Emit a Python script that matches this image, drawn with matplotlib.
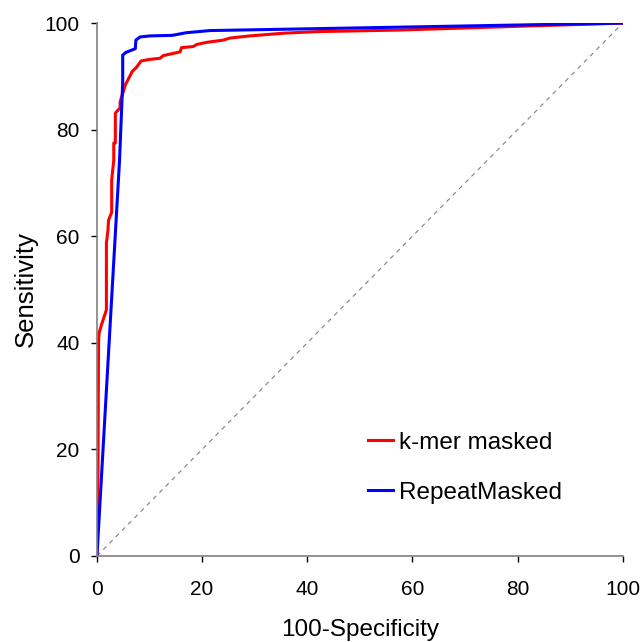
import matplotlib
matplotlib.use("Agg")
import matplotlib.pyplot as plt

plt.rcParams['font.family'] = ['Liberation Sans', 'DejaVu Sans']

# ROC points (x = 100-Specificity, y = Sensitivity)
KMER_X = [0, 0.1, 0.2, 0.3, 0.4, 0.9, 1.8, 1.8, 2.1, 2.2, 2.8, 2.8, 3.2, 3.2, 3.5, 3.5,
          4.4, 4.4, 5.4, 6.7, 7.6, 8.4, 10.1, 12.0, 12.6, 15.8, 16.1, 18.3, 19.0,
          20.9, 24.0, 25.3, 29.1, 35.4, 41.8, 57.6, 80.0, 100]
KMER_Y = [0, 10.0, 16.1, 40.0, 41.8, 43.5, 46.2, 58.7, 61.2, 63.0, 64.5, 70.5, 74.3, 77.5,
          77.5, 83.1, 84.1, 85.2, 88.4, 90.9, 91.8, 92.9, 93.2, 93.4, 93.9, 94.6, 95.4,
          95.6, 96.0, 96.4, 96.8, 97.2, 97.6, 98.1, 98.4, 98.7, 99.4, 100]

REPEAT_X = [0, 4.3, 4.9, 4.9, 5.5, 7.3, 7.4, 8.2, 10.1, 14.3, 17.0, 21.5, 100]
REPEAT_Y = [0, 74.3, 88.9, 94.0, 94.5, 95.2, 96.8, 97.4, 97.6, 97.7, 98.2, 98.6, 100]

fig = plt.figure(figsize=(6.42, 6.42), dpi=100)
ax = fig.add_axes([0.151, 0.134, 0.819, 0.830])

ax.plot([0, 100], [0, 100], color='#808080', lw=0.8, ls=(0, (4, 4)))
ax.plot(KMER_X, KMER_Y, color='#FF0000', lw=2.2, label='k-mer masked')
ax.plot(REPEAT_X, REPEAT_Y, color='#0000FF', lw=2.2, label='RepeatMasked')

ax.set_xlim(0, 100)
ax.set_ylim(0, 100)
ax.set_xticks([0, 20, 40, 60, 80, 100])
ax.set_yticks([0, 20, 40, 60, 80, 100])
for side in ['top', 'right']:
    ax.spines[side].set_visible(False)
for side in ['left', 'bottom']:
    ax.spines[side].set_color('#808080')
    ax.spines[side].set_linewidth(1.2)
ax.tick_params(axis='both', direction='out', length=4.5, width=1.0, labelsize=15, colors='black')
ax.tick_params(axis='y', pad=8)
ax.tick_params(axis='x', pad=13)

ax.set_xlabel('100-Specificity', fontsize=17.5, labelpad=14)
ax.set_ylabel('Sensitivity', fontsize=18.5, labelpad=5)

ax.legend(loc='lower left', bbox_to_anchor=(0.515, 0.098), frameon=False, fontsize=17.5,
          handlelength=1.05, handletextpad=0.25, labelspacing=1.15,
          borderpad=0, borderaxespad=0)

fig.savefig('out.png', dpi=100)
